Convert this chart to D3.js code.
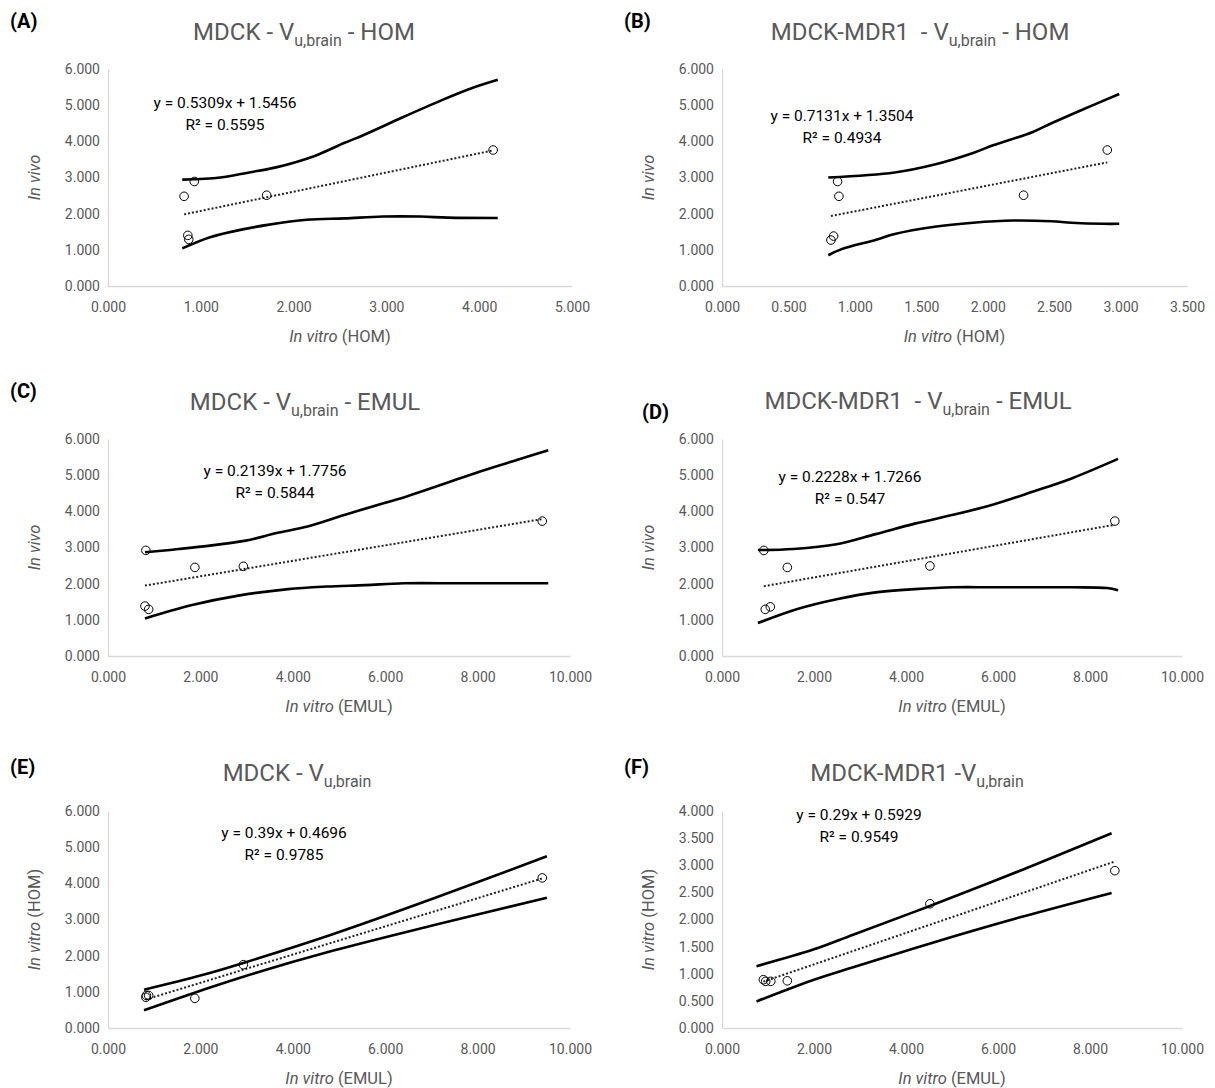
<!DOCTYPE html>
<html>
<head>
<meta charset="utf-8">
<script src="https://cdn.jsdelivr.net/npm/d3@7"></script>
<style>
  body { margin: 0; background: #fff; }
  text { font-family: Roboto, "Liberation Sans", sans-serif; }
</style>
</head>
<body>
<svg id="fig" width="1215" height="1088"></svg>
<script>
// ---- data ----
const panelLetters = ["(A)", "(B)", "(C)", "(D)", "(E)", "(F)"];
const titleStart = ["MDCK - V", "MDCK-MDR1  - V", "MDCK - V", "MDCK-MDR1  - V", "MDCK - V", "MDCK-MDR1 -V"];
const titleEnd = [" - HOM", " - HOM", " - EMUL", " - EMUL", "", ""];
const xMethod = ["(HOM)", "(HOM)", "(EMUL)", "(EMUL)", "(EMUL)", "(EMUL)"];
const yItalic = ["In vivo", "In vivo", "In vivo", "In vivo", "In vitro", "In vitro"];
const yMethod = ["", "", "", "", " (HOM)", " (HOM)"];

const xMax = [5, 3.5, 10, 10, 10, 10];
const xStep = [1, 0.5, 2, 2, 2, 2];
const yMax = [6, 6, 6, 6, 6, 4];
const yStep = [1, 1, 1, 1, 1, 0.5];

const slopes = [0.5309, 0.7131, 0.2139, 0.2228, 0.39, 0.29];
const intercepts = [1.5456, 1.3504, 1.7756, 1.7266, 0.4696, 0.5929];
const eqTexts = ["y = 0.5309x + 1.5456", "y = 0.7131x + 1.3504", "y = 0.2139x + 1.7756",
                 "y = 0.2228x + 1.7266", "y = 0.39x + 0.4696", "y = 0.29x + 0.5929"];
const r2Texts = ["R² = 0.5595", "R² = 0.4934", "R² = 0.5844", "R² = 0.547", "R² = 0.9785", "R² = 0.9549"];

const pointsX = [
  [0.82, 0.93, 0.86, 0.87, 1.71, 4.15],
  [0.87, 0.88, 0.82, 0.84, 2.27, 2.90],
  [0.82, 1.88, 2.93, 0.80, 0.88, 9.40],
  [0.91, 1.42, 4.52, 0.94, 1.05, 8.54],
  [0.83, 0.88, 0.82, 1.88, 2.93, 9.40],
  [0.90, 0.95, 1.06, 1.42, 4.52, 8.54]
];
const pointsY = [
  [2.48, 2.89, 1.40, 1.29, 2.51, 3.76],
  [2.89, 2.48, 1.27, 1.38, 2.51, 3.76],
  [2.92, 2.45, 2.48, 1.38, 1.29, 3.73],
  [2.92, 2.45, 2.49, 1.29, 1.36, 3.73],
  [0.90, 0.90, 0.85, 0.82, 1.75, 4.15],
  [0.89, 0.86, 0.86, 0.87, 2.29, 2.90]
];

const upperBand = [
  [[0.80, 2.94], [1.21, 3.00], [1.52, 3.14], [1.81, 3.28], [2.22, 3.59], [2.55, 3.96], [2.75, 4.17], [3.17, 4.66], [3.58, 5.12], [3.91, 5.46], [4.20, 5.70]],
  [[0.80, 3.00], [1.30, 3.14], [1.60, 3.36], [1.89, 3.68], [2.04, 3.89], [2.34, 4.26], [2.48, 4.50], [2.69, 4.84], [2.99, 5.31]],
  [[0.80, 2.87], [1.40, 2.94], [2.07, 3.03], [2.98, 3.19], [3.65, 3.40], [4.32, 3.58], [5.15, 3.91], [5.98, 4.23], [6.48, 4.42], [7.23, 4.74], [8.07, 5.11], [8.90, 5.44], [9.53, 5.69]],
  [[0.78, 2.93], [1.55, 2.96], [2.49, 3.09], [3.34, 3.37], [4.19, 3.66], [5.05, 3.91], [5.90, 4.19], [6.75, 4.54], [7.60, 4.91], [8.61, 5.45]],
  [[0.78, 1.06], [2.00, 1.45], [2.93, 1.80], [4.88, 2.60], [7.04, 3.58], [9.50, 4.75]],
  [[0.75, 1.14], [2.00, 1.45], [2.85, 1.72], [4.49, 2.24], [6.48, 2.90], [8.47, 3.59]]
];
const lowerBand = [
  [[0.80, 1.04], [1.10, 1.35], [1.48, 1.58], [1.72, 1.69], [2.14, 1.83], [2.55, 1.87], [2.96, 1.92], [3.37, 1.92], [3.66, 1.89], [4.20, 1.88]],
  [[0.80, 0.85], [0.90, 1.02], [1.16, 1.28], [1.30, 1.44], [1.60, 1.64], [1.89, 1.75], [2.19, 1.81], [2.48, 1.79], [2.63, 1.75], [2.87, 1.72], [2.99, 1.72]],
  [[0.80, 1.04], [1.82, 1.41], [2.82, 1.67], [3.90, 1.85], [4.73, 1.92], [5.57, 1.96], [6.40, 2.01], [7.65, 2.01], [9.53, 2.01]],
  [[0.78, 0.91], [1.64, 1.30], [2.49, 1.57], [3.34, 1.76], [4.19, 1.85], [5.05, 1.90], [5.90, 1.90], [7.60, 1.90], [8.37, 1.88], [8.61, 1.82]],
  [[0.78, 0.49], [2.00, 1.03], [2.93, 1.42], [4.88, 2.14], [7.04, 2.84], [9.50, 3.60]],
  [[0.75, 0.49], [2.00, 0.89], [2.85, 1.12], [4.49, 1.55], [6.48, 2.04], [8.47, 2.49]]
];

// ---- layout ----
const plotLeft = [108, 722, 108, 722, 108, 722];
const plotRight = [572, 1187, 570, 1182, 570, 1182];
const plotBottom = [286, 286, 656, 656, 1028, 1028];
const plotHeight = 217;
const letterPos = [[10, 28], [624, 28], [10, 398], [642, 419], [10, 774], [624, 774]];
const titlePos = [[304, 40], [920, 40], [305, 410], [918, 409], [297, 781], [917, 781]];
const eqPos = [[225, 108], [842, 121], [275, 476], [850, 482], [284, 838], [859, 820]];

const grey = "#595959";
const svg = d3.select("#fig");
const fmt = d3.format(".3f");

panelLetters.forEach((letter, i) => {
  const x = d3.scaleLinear().domain([0, xMax[i]]).range([plotLeft[i], plotRight[i]]);
  const y = d3.scaleLinear().domain([0, yMax[i]]).range([plotBottom[i], plotBottom[i] - plotHeight]);
  const g = svg.append("g");

  // axes: light lines, no ticks
  const xAxis = g.append("g")
      .attr("transform", `translate(0,${plotBottom[i]})`)
      .call(d3.axisBottom(x).tickValues(d3.range(0, xMax[i] + 1e-9, xStep[i])).tickSize(0).tickPadding(16).tickFormat(fmt));
  const yAxis = g.append("g")
      .attr("transform", `translate(${plotLeft[i]},0)`)
      .call(d3.axisLeft(y).tickValues(d3.range(0, yMax[i] + 1e-9, yStep[i])).tickSize(0).tickPadding(8).tickFormat(fmt));
  [xAxis, yAxis].forEach(a => {
    a.select(".domain").attr("stroke", "#d9d9d9").attr("stroke-width", 1.3);
    a.selectAll("text").attr("fill", grey).style("font-size", "14px");
  });

  // confidence bands
  const bandLine = d3.line().x(d => x(d[0])).y(d => y(d[1])).curve(d3.curveCatmullRom.alpha(0.5));
  [upperBand[i], lowerBand[i]].forEach(band => {
    g.append("path")
        .datum(band)
        .attr("d", bandLine)
        .attr("fill", "none")
        .attr("stroke", "#000")
        .attr("stroke-width", 2.6)
        .attr("stroke-linejoin", "round");
  });

  // linear trendline over the range of points
  const ext = d3.extent(pointsX[i]);
  g.append("line")
      .attr("x1", x(ext[0])).attr("y1", y(slopes[i] * ext[0] + intercepts[i]))
      .attr("x2", x(ext[1])).attr("y2", y(slopes[i] * ext[1] + intercepts[i]))
      .attr("stroke", "#222")
      .attr("stroke-width", 2)
      .attr("stroke-dasharray", "2,2");

  // points
  g.selectAll("circle")
      .data(pointsX[i])
      .join("circle")
      .attr("cx", d => x(d))
      .attr("cy", (d, j) => y(pointsY[i][j]))
      .attr("r", 4.3)
      .attr("fill", "none")
      .attr("stroke", "#000")
      .attr("stroke-width", 1);

  // equation
  g.append("text").attr("x", eqPos[i][0]).attr("y", eqPos[i][1])
      .attr("text-anchor", "middle").style("font-size", "15.5px").attr("fill", "#000")
      .text(eqTexts[i]);
  g.append("text").attr("x", eqPos[i][0]).attr("y", eqPos[i][1] + 22)
      .attr("text-anchor", "middle").style("font-size", "15.5px").attr("fill", "#000")
      .text(r2Texts[i]);

  // panel letter
  g.append("text").attr("x", letterPos[i][0]).attr("y", letterPos[i][1])
      .style("font-size", "20px").style("font-weight", "bold").attr("fill", "#000")
      .text(letter);

  // title with subscript
  const t = g.append("text").attr("x", titlePos[i][0]).attr("y", titlePos[i][1])
      .attr("text-anchor", "middle").attr("fill", grey).style("font-size", "24px")
      .attr("xml:space", "preserve");
  t.append("tspan").text(titleStart[i]);
  t.append("tspan").attr("dy", 6).style("font-size", "16px").text("u,brain");
  t.append("tspan").attr("dy", -6).text(titleEnd[i]);

  // x axis title
  const xt = g.append("text")
      .attr("x", (plotLeft[i] + plotRight[i]) / 2).attr("y", plotBottom[i] + 56)
      .attr("text-anchor", "middle").attr("fill", grey).style("font-size", "16.5px")
      .attr("xml:space", "preserve");
  xt.append("tspan").style("font-style", "italic").text("In vitro");
  xt.append("tspan").text(" " + xMethod[i]);

  // y axis title
  const yt = g.append("text")
      .attr("transform", `translate(${plotLeft[i] - 68},${plotBottom[i] - plotHeight / 2}) rotate(-90)`)
      .attr("text-anchor", "middle").attr("fill", grey).style("font-size", "16.5px")
      .attr("xml:space", "preserve");
  yt.append("tspan").style("font-style", "italic").text(yItalic[i]);
  yt.append("tspan").text(yMethod[i]);
});
</script>
</body>
</html>
